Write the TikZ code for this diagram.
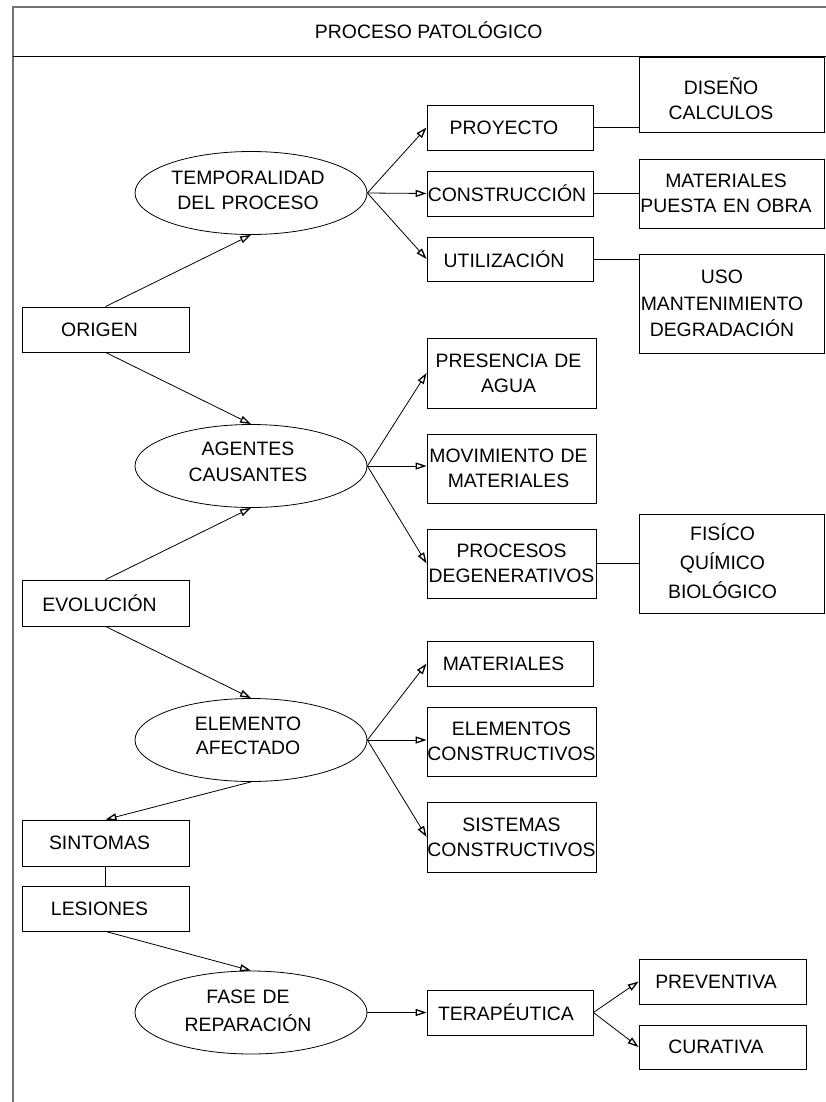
\documentclass[tikz,border=0pt]{standalone}
\usepackage{fontspec}
\setmainfont{Liberation Sans}
\usetikzlibrary{shapes.geometric,arrows.meta}
\newcommand{\setfs}[1]{\fontsize{19.4}{#1}\selectfont}
% centred lines, shifted left by half of the given extra right skip
\newcommand{\ctrskip}[1]{\hyphenpenalty=10000\relax
  \leftskip=0pt plus 1fil\relax\rightskip=#1 plus 1fil\relax
  \parfillskip=0pt\relax\parindent=0pt\relax}

\tikzset{
  txt/.style={inner sep=0pt, align=center, font=\setfs{25}},
  % rectangle: text width, minimum height, extra right skip
  bx/.style n args={3}{draw, rectangle, txt, line width=0.8pt,
    text width=#1, minimum height=#2,
    execute at begin node={\ctrskip{#3}}},
  el/.style n args={1}{draw, ellipse, txt, line width=0.8pt,
    text width=160pt, minimum width=232pt, minimum height=83pt,
    execute at begin node={\ctrskip{#1}}},
  th/.style 2 args={text height=#1, text depth=#2},
  arr/.style={line width=0.8pt, -{Triangle[open, length=11pt, width=7pt, line width=1.3pt]}},
  link/.style={line width=0.8pt},
  frame/.style={line width=1.2pt, draw=black!55},
}

\begin{document}
\begin{tikzpicture}[x=1pt, y=-1pt]
\useasboundingbox (0,0) rectangle (825,1102);

% outer frame and title band
\draw[frame] (13,1103) -- (13,7) -- (826,7);
\draw[line width=1pt] (13,57) -- (826,57);
\node[txt, anchor=base] (title) at (428.7,39) {PROCESO PATOLÓGICO};

% left column
\node[bx={167pt}{45pt}{12pt}] (origen) at (105.5,329.5) {ORIGEN};
\node[bx={167pt}{46pt}{12pt}] (evol)   at (105.5,603)   {EVOLUCIÓN};
\node[bx={167pt}{46pt}{12pt}] (sint)   at (105.5,843)   {SINTOMAS};
\node[bx={167pt}{45pt}{12pt}] (lesi)   at (105.5,908.5) {LESIONES};

% ellipses
\node[el={6pt}, font=\setfs{24.7}, th={7.6pt}{25pt}] (temp) at (251,193)    {TEMPORALIDAD\\DEL PROCESO};
\node[el={6pt}, font=\setfs{26},   th={4pt}{26pt}]   (agen) at (251,466)    {AGENTES\\CAUSANTES};
\node[el={6pt}, font=\setfs{24.3}, th={4pt}{24pt}]   (elem) at (251,740)    {ELEMENTO\\AFECTADO};
\node[el={6pt}, font=\setfs{28.4}, th={9.6pt}{28pt}] (fase) at (251,1012.5) {FASE DE\\REPARACIÓN};

% middle column
\node[bx={166pt}{45pt}{12pt}] (proy) at (510,127.5) {PROYECTO};
\node[bx={166pt}{45pt}{6pt}]  (cons) at (510,193.5) {CONSTRUCCIÓN};
\node[bx={166pt}{44pt}{12pt}] (util) at (510,259)   {UTILIZACIÓN};

\node[bx={169pt}{70pt}{6pt}] (pres) at (511.5,373)   {PRESENCIA DE\\AGUA};
\node[bx={169pt}{69pt}{6pt}] (movi) at (511.5,468.5) {MOVIMIENTO DE\\MATERIALES};
\node[bx={169pt}{69pt}{0pt}] (proc) at (511.5,563.5) {PROCESOS\\DEGENERATIVOS};

\node[bx={166pt}{45pt}{13pt}] (matl) at (510,663.5) {MATERIALES};
\node[bx={169pt}{69pt}{0pt}]  (elco) at (511.5,741.5) {ELEMENTOS\\CONSTRUCTIVOS};
\node[bx={169pt}{70pt}{0pt}]  (sist) at (511.5,837) {SISTEMAS\\CONSTRUCTIVOS};

\node[bx={166pt}{45pt}{8pt}] (tera) at (510,1012.5) {TERAPÉUTICA};

% right column
\node[bx={185pt}{75pt}{21pt}, th={25pt}{25pt}] (dise) at (731.5,94.5) {DISEÑO\\CALCULOS};
\node[bx={185pt}{69pt}{11pt}] (mapu) at (731.5,193.5) {MATERIALES\\PUESTA EN OBRA};
\node[bx={185pt}{99pt}{19pt}, font=\setfs{26.5}] (uso) at (731.5,303.5) {USO\\MANTENIMIENTO\\DEGRADACIÓN};
\node[bx={185pt}{99pt}{18pt}, font=\setfs{29}, th={11pt}{58pt}] (fisi) at (731.5,563.5) {FISÍCO\\QUÍMICO\\BIOLÓGICO};
\node[bx={167pt}{45pt}{13pt}] (prev) at (722.5,981.5) {PREVENTIVA};
\node[bx={167pt}{44pt}{13pt}] (cura) at (722.5,1047)  {CURATIVA};

% left column to ellipses
\draw[arr] (origen.north) -- (temp.south);
\draw[arr] (origen.south) -- (agen.north);
\draw[arr] (evol.north) -- (agen.south);
\draw[arr] (evol.south) -- (elem.north);
\draw[arr] (elem.south) -- (sint.north);
\draw[link] (sint.south) -- (lesi.north);
\draw[arr] (lesi.south) -- (fase.north);

% ellipses to middle column
\draw[arr] (temp.east) -- (proy.west);
\draw[arr] (temp.east) -- (cons.west);
\draw[arr] (temp.east) -- (util.west);
\draw[arr] (agen.east) -- (pres.west);
\draw[arr] (agen.east) -- (agen.east -| movi.west);
\draw[arr] (agen.east) -- (proc.west);
\draw[arr] (elem.east) -- (matl.west);
\draw[arr] (elem.east) -- (elem.east -| elco.west);
\draw[arr] (elem.east) -- (sist.west);
\draw[arr] (fase.east) -- (tera.west);
\draw[arr] (tera.east) -- (prev.west);
\draw[arr] (tera.east) -- (cura.west);

% middle column to right column
\draw[link] (proy.east) -- (proy.east -| dise.west);
\draw[link] (cons.east) -- (cons.east -| mapu.west);
\draw[link] (util.east) -- (util.east -| uso.west);
\draw[link] (proc.east) -- (proc.east -| fisi.west);
\end{tikzpicture}
\end{document}
